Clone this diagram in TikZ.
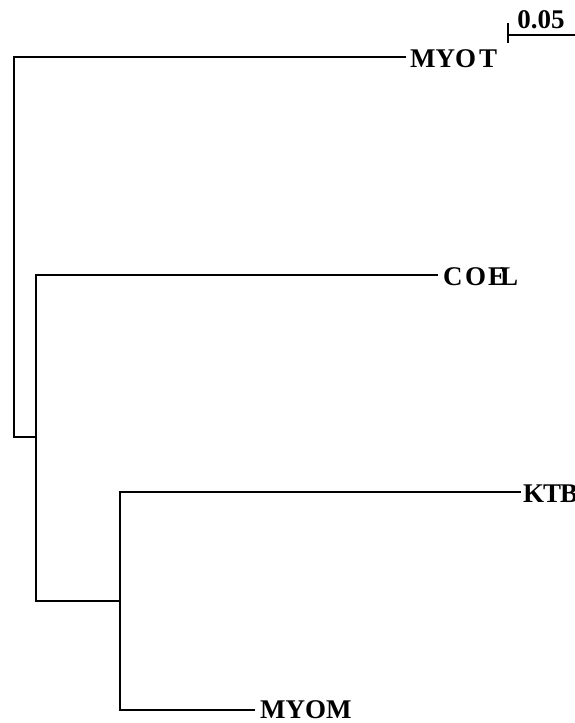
\documentclass[tikz,border=0pt]{standalone}
\usepackage{fontspec}
\setmainfont{Liberation Serif}
\begin{document}
\begin{tikzpicture}[x=1pt,y=-1pt,
  branch/.style={line width=1.6pt,line cap=rect},
  taxon/.style={anchor=base west,inner sep=0pt,font=\fontsize{27}{27}\selectfont\bfseries},
  scalelbl/.style={anchor=base,inner sep=0pt,font=\fontsize{27}{27}\selectfont\bfseries}]
  \useasboundingbox (0,0) rectangle (575,723);
  % internal nodes
  \coordinate (root) at (14,437);
  \coordinate (n2) at (36,437);
  \coordinate (n3) at (120,601);
  % tip ends
  \coordinate (tMYOT) at (405,57);
  \coordinate (tCOEL) at (437,275);
  \coordinate (tKTB) at (520,492);
  \coordinate (tMYOM) at (254,710);
  % labels
  \node[taxon] (MYOT) at (410,67) {MYO\kern3pt T};
  \node[taxon] (COEL) at (443,285) {C\kern2.5pt O\kern2pt E\kern-6pt L};
  \node[taxon] (KTB) at (523,502) {K\kern-1pt T\kern-1pt B};
  \node[taxon] (MYOM) at (260,718) {MYOM};
  % tree
  \draw[branch] (tMYOT) -| (root) -- (n2);
  \draw[branch] (tCOEL) -| (n2) |- (n3);
  \draw[branch] (tKTB) -| (n3) |- (tMYOM);
  % scale bar
  \coordinate (sb0) at (508,35);
  \coordinate (sb1) at (576,35);
  \coordinate (sbt) at (508,23);
  \coordinate (sbb) at (508,43);
  \draw[line width=1.6pt] (sbt) -- (sbb);
  \draw[line width=1.6pt] (sb0) -- (sb1);
  \node[scalelbl] (sblabel) at (541,28) {0.05};
\end{tikzpicture}
\end{document}
